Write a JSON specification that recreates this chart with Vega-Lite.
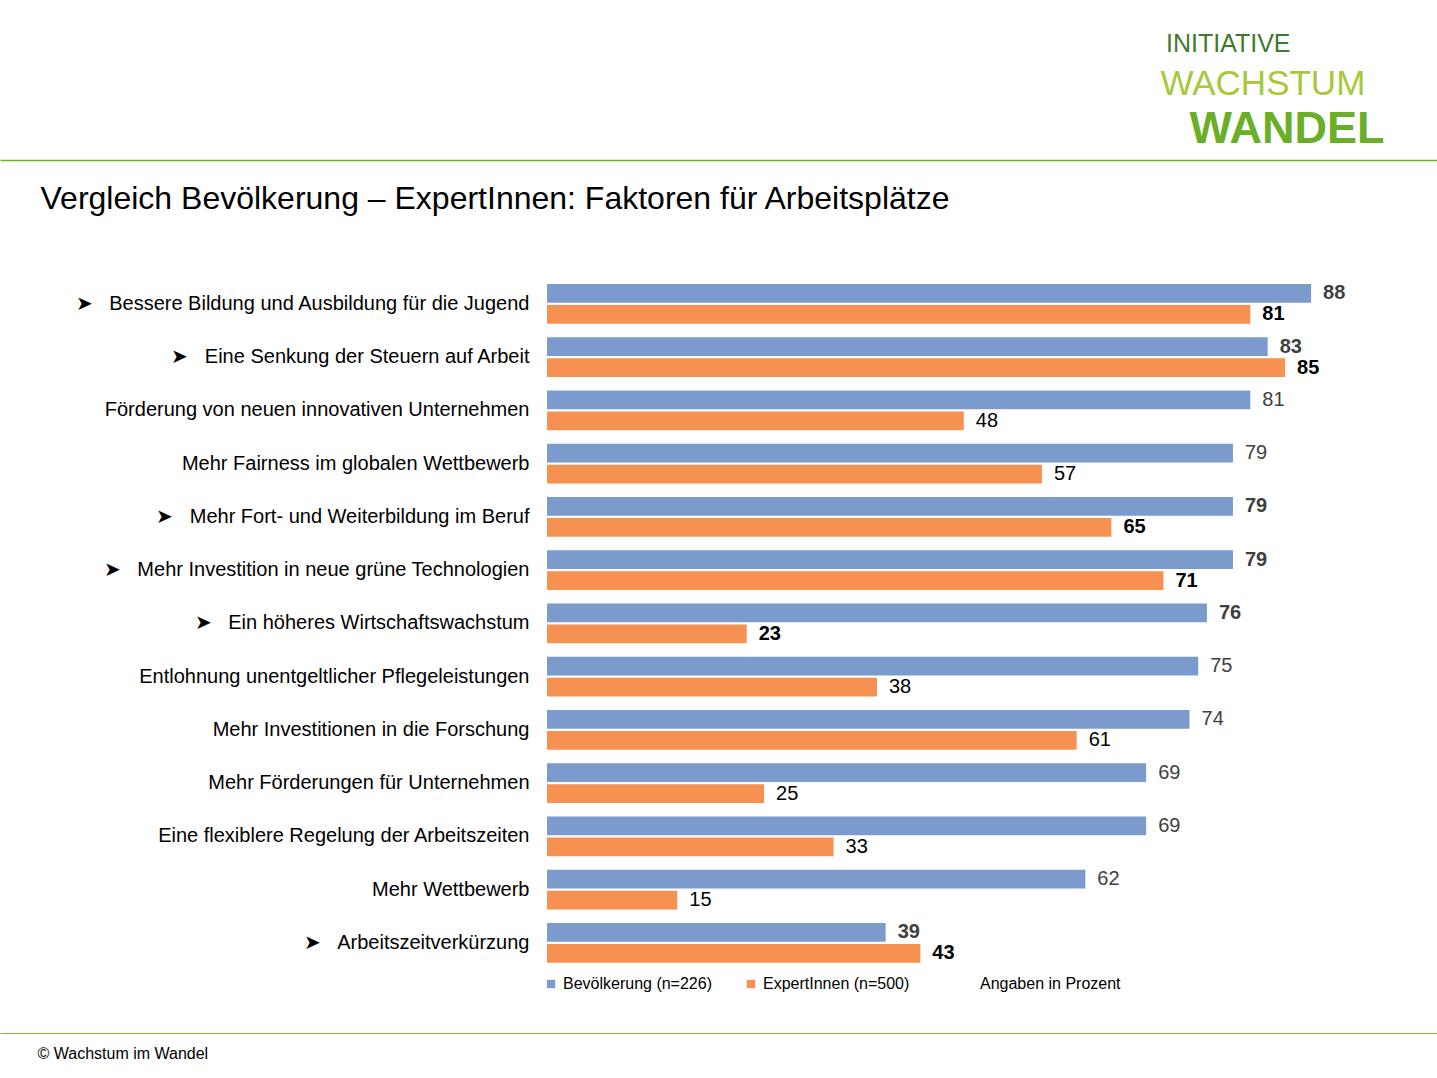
{
  "$schema": "https://vega.github.io/schema/vega-lite/v6.json",
  "width": 1437,
  "height": 1078,
  "autosize": "none",
  "padding": 0,
  "background": "#ffffff",
  "title": {
    "text": "INITIATIVE",
    "anchor": "start",
    "frame": "group",
    "orient": "top",
    "offset": 0,
    "dx": 1166,
    "dy": 77,
    "baseline": "alphabetic",
    "fontSize": 25,
    "fontWeight": "normal",
    "color": "#3f7a2e",
    "font": "Liberation Sans"
  },
  "data": {
    "values": [
      {"kategorie": "Bessere Bildung und Ausbildung für die Jugend", "gruppe": "Bevölkerung (n=226)", "wert": 88, "markiert": true},
      {"kategorie": "Bessere Bildung und Ausbildung für die Jugend", "gruppe": "ExpertInnen (n=500)", "wert": 81, "markiert": true},
      {"kategorie": "Eine Senkung der Steuern auf Arbeit", "gruppe": "Bevölkerung (n=226)", "wert": 83, "markiert": true},
      {"kategorie": "Eine Senkung der Steuern auf Arbeit", "gruppe": "ExpertInnen (n=500)", "wert": 85, "markiert": true},
      {"kategorie": "Förderung von neuen innovativen Unternehmen", "gruppe": "Bevölkerung (n=226)", "wert": 81, "markiert": false},
      {"kategorie": "Förderung von neuen innovativen Unternehmen", "gruppe": "ExpertInnen (n=500)", "wert": 48, "markiert": false},
      {"kategorie": "Mehr Fairness im globalen Wettbewerb", "gruppe": "Bevölkerung (n=226)", "wert": 79, "markiert": false},
      {"kategorie": "Mehr Fairness im globalen Wettbewerb", "gruppe": "ExpertInnen (n=500)", "wert": 57, "markiert": false},
      {"kategorie": "Mehr Fort- und Weiterbildung im Beruf", "gruppe": "Bevölkerung (n=226)", "wert": 79, "markiert": true},
      {"kategorie": "Mehr Fort- und Weiterbildung im Beruf", "gruppe": "ExpertInnen (n=500)", "wert": 65, "markiert": true},
      {"kategorie": "Mehr Investition in neue grüne Technologien", "gruppe": "Bevölkerung (n=226)", "wert": 79, "markiert": true},
      {"kategorie": "Mehr Investition in neue grüne Technologien", "gruppe": "ExpertInnen (n=500)", "wert": 71, "markiert": true},
      {"kategorie": "Ein höheres Wirtschaftswachstum", "gruppe": "Bevölkerung (n=226)", "wert": 76, "markiert": true},
      {"kategorie": "Ein höheres Wirtschaftswachstum", "gruppe": "ExpertInnen (n=500)", "wert": 23, "markiert": true},
      {"kategorie": "Entlohnung unentgeltlicher Pflegeleistungen", "gruppe": "Bevölkerung (n=226)", "wert": 75, "markiert": false},
      {"kategorie": "Entlohnung unentgeltlicher Pflegeleistungen", "gruppe": "ExpertInnen (n=500)", "wert": 38, "markiert": false},
      {"kategorie": "Mehr Investitionen in die Forschung", "gruppe": "Bevölkerung (n=226)", "wert": 74, "markiert": false},
      {"kategorie": "Mehr Investitionen in die Forschung", "gruppe": "ExpertInnen (n=500)", "wert": 61, "markiert": false},
      {"kategorie": "Mehr Förderungen für Unternehmen", "gruppe": "Bevölkerung (n=226)", "wert": 69, "markiert": false},
      {"kategorie": "Mehr Förderungen für Unternehmen", "gruppe": "ExpertInnen (n=500)", "wert": 25, "markiert": false},
      {"kategorie": "Eine flexiblere Regelung der Arbeitszeiten", "gruppe": "Bevölkerung (n=226)", "wert": 69, "markiert": false},
      {"kategorie": "Eine flexiblere Regelung der Arbeitszeiten", "gruppe": "ExpertInnen (n=500)", "wert": 33, "markiert": false},
      {"kategorie": "Mehr Wettbewerb", "gruppe": "Bevölkerung (n=226)", "wert": 62, "markiert": false},
      {"kategorie": "Mehr Wettbewerb", "gruppe": "ExpertInnen (n=500)", "wert": 15, "markiert": false},
      {"kategorie": "Arbeitszeitverkürzung", "gruppe": "Bevölkerung (n=226)", "wert": 39, "markiert": true},
      {"kategorie": "Arbeitszeitverkürzung", "gruppe": "ExpertInnen (n=500)", "wert": 43, "markiert": true}
    ]
  },
  "encoding": {
    "y": {
      "field": "kategorie",
      "type": "nominal",
      "sort": null,
      "scale": {"range": [277.2, 969.5], "paddingInner": 0.2545, "paddingOuter": 0.127}
    },
    "yOffset": {
      "field": "gruppe",
      "type": "nominal",
      "sort": ["Bevölkerung (n=226)", "ExpertInnen (n=500)"],
      "scale": {"paddingInner": 0.11, "paddingOuter": 0}
    },
    "x": {
      "field": "wert",
      "type": "quantitative",
      "scale": {"domain": [-63, 102.5], "nice": false, "zero": false}
    }
  },
  "layer": [
    {
      "mark": {"type": "bar"},
      "encoding": {
        "color": {
          "field": "gruppe",
          "type": "nominal",
          "scale": {"domain": ["Bevölkerung (n=226)", "ExpertInnen (n=500)"], "range": ["#7b9bcd", "#f79151"]},
          "legend": {
            "title": "Angaben in Prozent",
            "orient": "none",
            "legendX": 543,
            "legendY": 976,
            "direction": "horizontal",
            "titleOrient": "right",
            "titlePadding": 71,
            "titleFontSize": 16,
            "titleFontWeight": "normal",
            "titleColor": "#000000",
            "titleFont": "Liberation Sans",
            "labelFontSize": 16,
            "labelFont": "Liberation Sans",
            "labelColor": "#000000",
            "labelOffset": 4,
            "symbolType": "square",
            "symbolSize": 70,
            "symbolStrokeWidth": 0,
            "columnPadding": 31,
            "padding": 0
          }
        },
        "y": {
          "field": "kategorie",
          "type": "nominal",
          "sort": null,
          "axis": {
            "orient": "left",
            "offset": -547,
            "domain": false,
            "ticks": false,
            "labelPadding": 18,
            "labelFontSize": 20,
            "labelFont": "Liberation Sans",
            "labelColor": "#000000",
            "labelLimit": 0,
            "labelExpr": "indexof(['Bessere Bildung und Ausbildung für die Jugend','Eine Senkung der Steuern auf Arbeit','Mehr Fort- und Weiterbildung im Beruf','Mehr Investition in neue grüne Technologien','Ein höheres Wirtschaftswachstum','Arbeitszeitverkürzung'], datum.value) >= 0 ? '➤\u00a0\u00a0\u00a0' + datum.value : datum.value",
            "title": "WACHSTUM",
            "titleAngle": 0,
            "titleX": 613,
            "titleY": 94,
            "titleAlign": "left",
            "titleBaseline": "alphabetic",
            "titleFontSize": 35,
            "titleFontWeight": "normal",
            "titleColor": "#a7c83c",
            "titleFont": "Liberation Sans"
          }
        },
        "x": {
          "field": "wert",
          "type": "quantitative",
          "axis": {
            "orient": "top",
            "offset": -160,
            "domain": true,
            "domainColor": "#6ab023",
            "domainWidth": 1.5,
            "ticks": false,
            "labels": false,
            "grid": false,
            "title": "Vergleich Bevölkerung – ExpertInnen: Faktoren für Arbeitsplätze",
            "titleX": 40,
            "titleY": 48,
            "titleAlign": "left",
            "titleBaseline": "alphabetic",
            "titleFontSize": 32,
            "titleFontWeight": "normal",
            "titleColor": "#000000",
            "titleFont": "Liberation Sans"
          }
        }
      }
    },
    {
      "transform": [{"filter": "!datum.markiert"}],
      "mark": {"type": "text", "align": "left", "baseline": "middle", "dx": 12, "fontSize": 20, "font": "Liberation Sans"},
      "encoding": {
        "text": {"field": "wert", "type": "quantitative"},
        "color": {"condition": {"test": "datum.gruppe == 'Bevölkerung (n=226)'", "value": "#404040"}, "value": "#000000"},
        "y": {
          "field": "kategorie",
          "type": "nominal",
          "sort": null,
          "axis": {
            "orient": "right",
            "offset": 0,
            "domain": false,
            "ticks": false,
            "labels": false,
            "title": "WANDEL",
            "titleAngle": 0,
            "titleX": -248,
            "titleY": 142,
            "titleAlign": "left",
            "titleBaseline": "alphabetic",
            "titleFontSize": 45,
            "titleFontWeight": "bold",
            "titleColor": "#6aaf28",
            "titleFont": "Liberation Sans"
          }
        },
        "x": {
          "field": "wert",
          "type": "quantitative",
          "axis": {
            "orient": "bottom",
            "offset": -45,
            "domain": true,
            "domainColor": "#7ab648",
            "domainWidth": 1,
            "ticks": false,
            "labels": false,
            "grid": false,
            "title": "© Wachstum im Wandel",
            "titleX": 37,
            "titleY": 25,
            "titleAlign": "left",
            "titleBaseline": "alphabetic",
            "titleFontSize": 16,
            "titleFontWeight": "normal",
            "titleColor": "#000000",
            "titleFont": "Liberation Sans"
          }
        }
      }
    },
    {
      "transform": [{"filter": "datum.markiert"}],
      "mark": {"type": "text", "align": "left", "baseline": "middle", "dx": 12, "fontSize": 20, "fontWeight": "bold", "font": "Liberation Sans"},
      "encoding": {
        "text": {"field": "wert", "type": "quantitative"},
        "color": {"condition": {"test": "datum.gruppe == 'Bevölkerung (n=226)'", "value": "#404040"}, "value": "#000000"},
        "y": {"field": "kategorie", "type": "nominal", "sort": null, "axis": null},
        "x": {"field": "wert", "type": "quantitative", "axis": null}
      }
    }
  ],
  "resolve": {"axis": {"x": "independent", "y": "independent"}},
  "config": {
    "font": "Liberation Sans",
    "view": {"stroke": null},
    "axis": {"grid": false}
  }
}
